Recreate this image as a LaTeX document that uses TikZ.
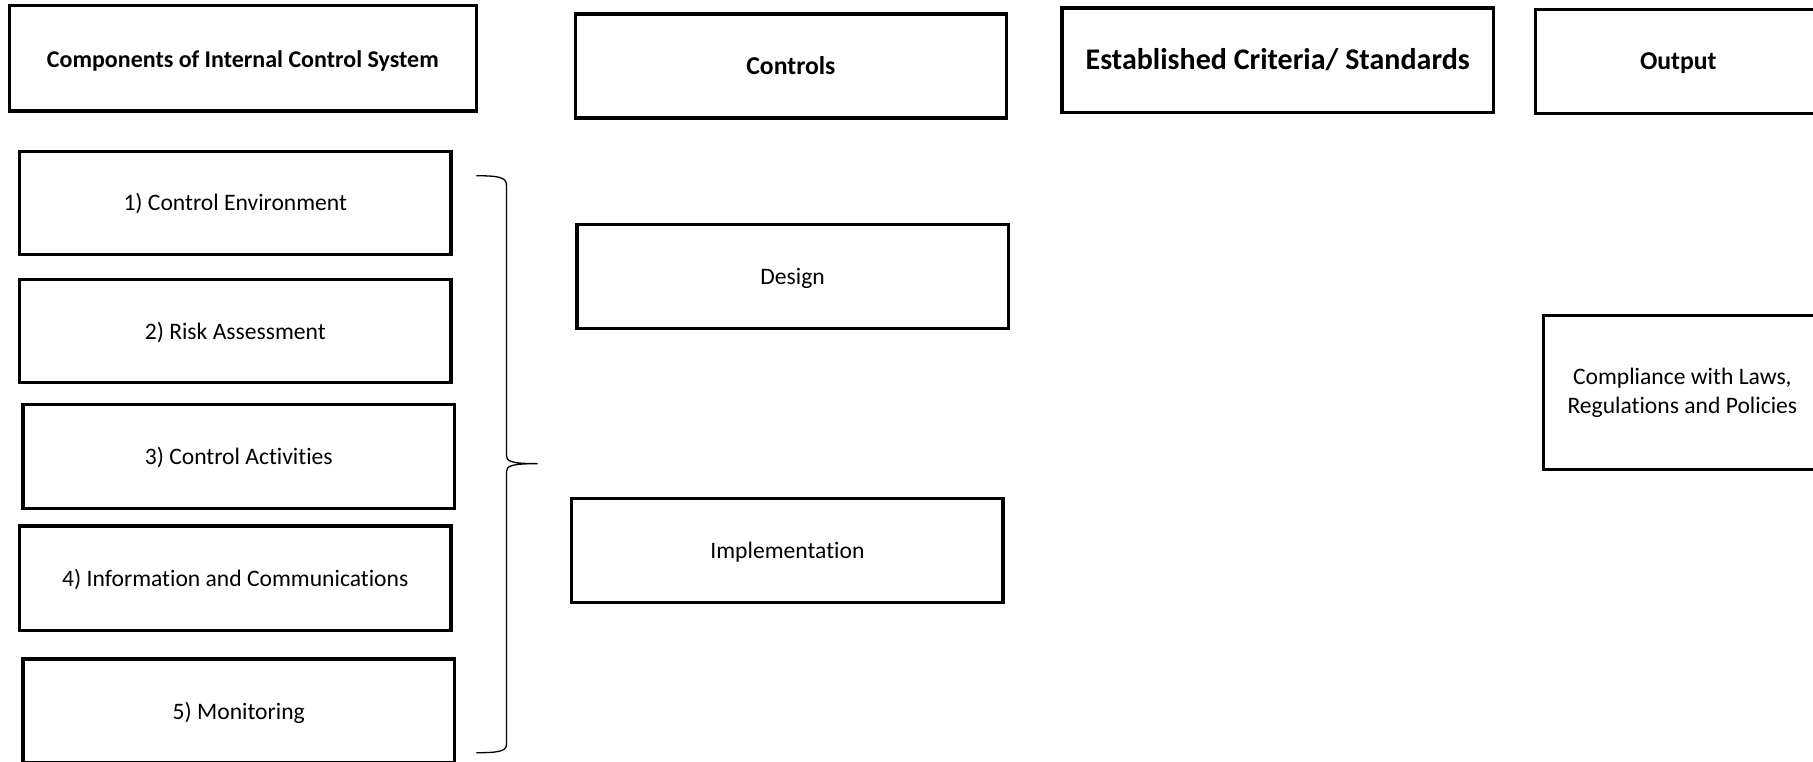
\documentclass[tikz,border=0pt]{standalone}
\usepackage{fontspec}
\setmainfont{Carlito}[Ligatures=NoCommon]
\begin{document}
\begin{tikzpicture}[x=1.1563pt,y=-1.1563pt,
  box/.style={draw=black, line width=3.3pt, inner sep=0pt, align=center,
    minimum width=373*1.1563pt, minimum height=90*1.1563pt,
    text height=20pt, text depth=4pt,
    font=\fontsize{23.6}{29}\selectfont},
  multibox/.style={draw=black, line width=3.3pt, inner sep=0pt, align=center,
    font=\fontsize{23.6}{29}\selectfont},
  headsm/.style={box, text height=22pt, text depth=3.4pt, font=\bfseries\fontsize{24}{28}\selectfont},
  headmd/.style={box, text height=20pt, text depth=3.8pt, font=\bfseries\fontsize{25.7}{30}\selectfont},
  headlg/.style={box, text height=23pt, text depth=4pt, font=\bfseries\fontsize{30}{34}\selectfont},
  bracestyle/.style={draw=black, line width=1.3pt}]
\useasboundingbox (0,0) rectangle (1568,659);
\clip (0,0) rectangle (1568,659);
\fill[white] (0,0) rectangle (1568,659);
% headers
\node[headsm, minimum width=404*1.1563pt, minimum height=91*1.1563pt] (comp) at (210,50.5) {Components of Internal Control System};
\node[headmd] (ctrl) at (684,57) {Controls};
\node[headlg] (crit) at (1105,52) {Established Criteria/ Standards};
\node[headmd, minimum width=247*1.1563pt] (out) at (1451.5,53) {Output};
% components
\node[box, minimum height=89*1.1563pt] (c1) at (203.5,175.5) {1) Control Environment};
\node[box, minimum height=89*1.1563pt] (c2) at (203.5,286.5) {2) Risk Assessment};
\node[box] (c3) at (206.5,395) {3) Control Activities};
\node[box] (c4) at (203.5,500) {4) Information and Communications};
\node[box] (c5) at (206.5,615) {5) Monitoring};
% controls
\node[box] (design) at (685.5,239) {Design};
\node[box] (impl) at (681,476) {Implementation};
% output
\node[multibox, minimum width=240*1.1563pt, minimum height=133*1.1563pt] (comply) at (1455,339.5) {Compliance with Laws,\\Regulations and Policies};
% brace
\coordinate (btop) at (412,152);
\coordinate (btip) at (465,401);
\coordinate (bbot) at (412,651);
\draw[bracestyle] (btop) .. controls (430,152) and (438,153) .. (438,160)
  -- (438,394) .. controls (438,399) and (442,401) .. (btip)
  .. controls (442,401) and (438,403) .. (438,408)
  -- (438,644) .. controls (438,650) and (430,651) .. (bbot);
\end{tikzpicture}
\end{document}
